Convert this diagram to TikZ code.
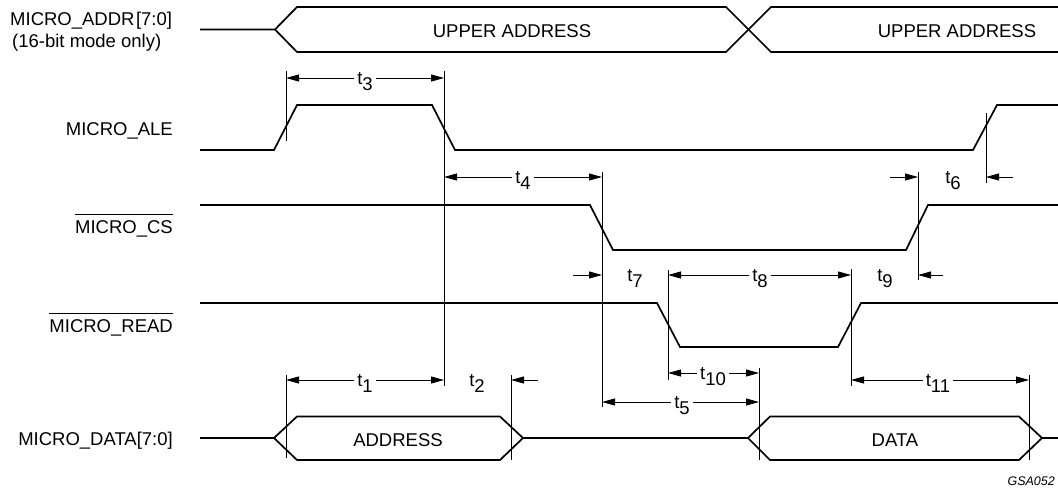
\documentclass[tikz,border=0pt]{standalone}
\usepackage{fontspec}
\setmainfont{Liberation Sans}
\usetikzlibrary{arrows.meta}
\newcommand\tsub[1]{t\raisebox{-6pt}{#1}}
\begin{document}
\begin{tikzpicture}[x=1pt,y=-1pt,
  sig/.style={line width=1.7pt, line join=miter},
  thinl/.style={line width=0.8pt},
  tip/.tip={Triangle[length=13pt,width=7pt]},
  dimboth/.style={thinl, tip-tip},
  dimright/.style={thinl, -tip},
  lbl/.style={font=\fontsize{18.5}{22}\selectfont, inner sep=0pt},
  tl/.style={font=\fontsize{18.5}{20}\selectfont, fill=white, inner xsep=3pt, inner ysep=1pt, anchor=base},
  foot/.style={font=\fontsize{12.5}{15}\selectfont\itshape, inner sep=0pt, anchor=base east}
]
\useasboundingbox (0,0) rectangle (1058,488);

% ---------- signal names ----------
\node[lbl, anchor=base west] (naddr) at (10,25) {MICRO\_ADDR\kern1.5pt[7:0]};
\node[lbl, anchor=base west] (nmode) at (12,47) {(16-bit mode only)};
\node[lbl, anchor=base east] (nale) at (173,135) {MICRO\_ALE};
\node[lbl, anchor=base east] (ncs) at (173,233) {MICRO\_CS};
\draw[thinl] ([yshift=19pt]ncs.base west) -- ([yshift=19pt]ncs.base east);
\node[lbl, anchor=base east] (nread) at (173,332) {MICRO\_READ};
\draw[thinl] ([yshift=19pt]nread.base west) -- ([yshift=19pt]nread.base east);
\node[lbl, anchor=base east] (ndata) at (173,445) {MICRO\_DATA[7:0]};

% ---------- waveforms ----------
% address bus
\draw[sig] (200,29.5) -- (275,29.5) -- (297,7) -- (726,7) -- (771,52) -- (1062,52);
\draw[sig] (275,29.5) -- (297,52) -- (726,52) -- (771,7) -- (1062,7);
\node[lbl, anchor=base] (ua1) at (512,37) {UPPER ADDRESS};
\node[lbl, anchor=base] (ua2) at (957,37) {UPPER ADDRESS};
% ALE
\draw[sig] (200,150) -- (274,150) -- (297,105) -- (432,105) -- (455,150) -- (973,150) -- (997,105) -- (1062,105);
% CS
\draw[sig] (200,205) -- (590,205) -- (613,250) -- (906,250) -- (928,205) -- (1062,205);
% READ
\draw[sig] (200,303) -- (657,303) -- (680,347) -- (838,347) -- (861,303) -- (1062,303);
% data bus
\draw[sig] (200,438) -- (274,438) -- (297,416.5) -- (500,416.5) -- (523,438) -- (748,438) -- (770,416.5) -- (1019,416.5) -- (1042,438) -- (1062,438);
\draw[sig] (274,438) -- (297,460) -- (500,460) -- (523,438);
\draw[sig] (748,438) -- (770,460) -- (1019,460) -- (1042,438);
\node[lbl, anchor=base] (addr) at (398,446) {ADDRESS};
\node[lbl, anchor=base] (data) at (895,446) {DATA};

% ---------- reference lines ----------
\draw[thinl] (286,71) -- (286,141);
\draw[thinl] (286,375) -- (286,458);
\draw[thinl] (444,71) -- (444,386);
\draw[thinl] (511,375) -- (511,460);
\draw[thinl] (602,172) -- (602,407);
\draw[thinl] (668,270) -- (668,380);
\draw[thinl] (759,368) -- (759,460);
\draw[thinl] (851,269) -- (851,386);
\draw[thinl] (918,172) -- (918,280);
\draw[thinl] (986,113) -- (986,183);
\draw[thinl] (1029,375) -- (1029,460);

% ---------- timing dimensions ----------
\draw[dimboth] (286,78) -- (444,78);
\node[tl] (t3) at (365,84) {\tsub{3}};

\draw[dimboth] (444,177) -- (602,177);
\node[tl] (t4) at (523,183) {\tsub{4}};

\draw[dimright] (890,177) -- (918,177);
\draw[dimright] (1013,177) -- (986,177);
\node[tl] (t6) at (953,183) {\tsub{6}};

\draw[dimright] (573,275) -- (602,275);
\node[tl] (t7) at (635,281) {\tsub{7}};
\draw[dimboth] (668,275) -- (851,275);
\node[tl] (t8) at (760,281) {\tsub{8}};
\draw[dimright] (943,275) -- (918,275);
\node[tl] (t9) at (885,281) {\tsub{9}};

\draw[dimboth] (668,373) -- (759,373);
\node[tl] (t10) at (713,379) {\tsub{10}};
\draw[dimboth] (602,402) -- (759,402);
\node[tl] (t5) at (682,408) {\tsub{5}};

\draw[dimboth] (286,380) -- (444,380);
\node[tl] (t1) at (365,386) {\tsub{1}};
\draw[dimright] (538,380) -- (511,380);
\node[tl] (t2) at (477,386) {\tsub{2}};
\draw[dimboth] (851,380) -- (1029,380);
\node[tl] (t11) at (938,386) {\tsub{11}};

\node[foot] (gsa) at (1055,485) {GSA052};
\end{tikzpicture}
\end{document}
